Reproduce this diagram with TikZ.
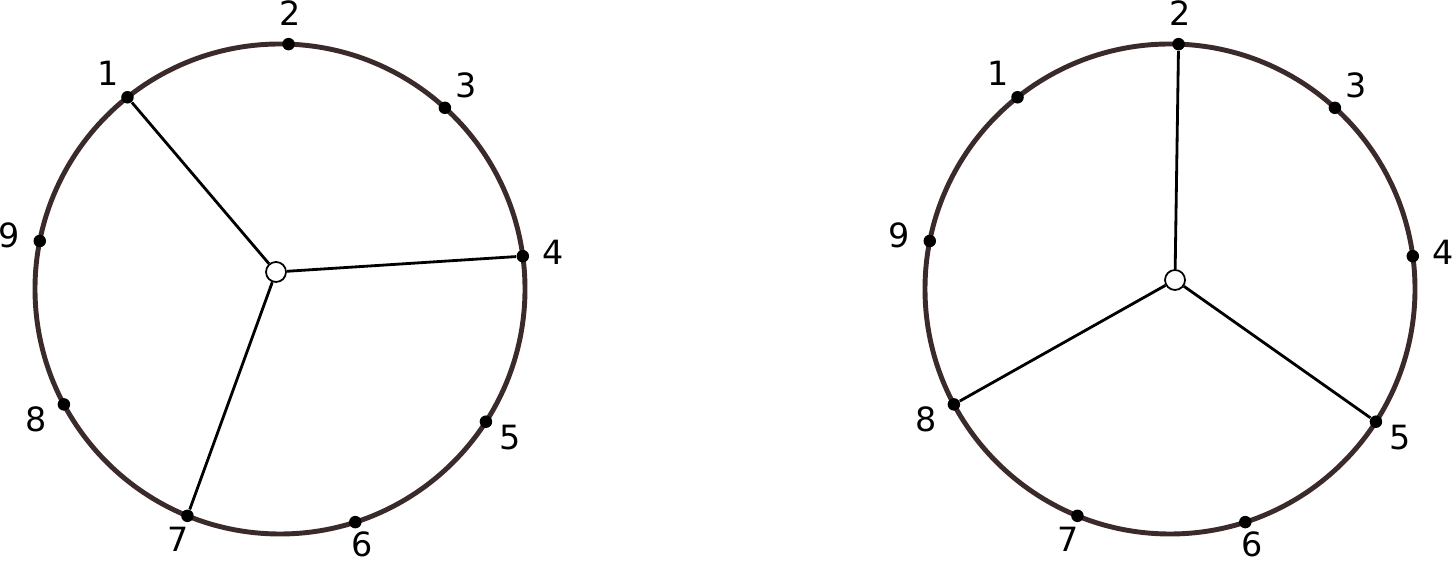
\documentclass[tikz,border=0pt]{standalone}
\usepackage{fontspec}
\setmainfont{DejaVu Sans}
\usepackage{tikz}
\usetikzlibrary{positioning}
\definecolor{rimbrown}{HTML}{3B2A2A}

\begin{document}
\begin{tikzpicture}[x=0.02cm, y=0.02cm, semithick,
    rim/.style={draw=rimbrown, line width=2.8pt},
    spot/.style={circle, fill=black, inner sep=0pt, minimum size=0.25cm},
    hub/.style={circle, draw=black, fill=white, line width=1pt, inner sep=0pt, minimum size=0.4cm},
    spoke/.style={draw=black, line width=1.6pt},
    lbl/.style={font=\fontsize{19}{19}\selectfont}]
    \useasboundingbox (0,0) rectangle (1453,563);
    \def\r{245}
    % Left wheel
    \begin{scope}[shift={(280,274)}]
      \draw[rim] (0,0) circle [radius=\r];
      \foreach \a/\rl [count=\i] in {128.5/276,88/276,47.7/276,7.7/276,-32.8/274,-72.1/268,-112.2/270,-151.9/276,168.7/276}{
        \node[spot] (L\i) at (\a:\r) {};
        \node[lbl] (Ll\i) at (\a:\rl) {\i};
      }
    \end{scope}
    \node[hub] (Lc) at (276,291) {};
    \draw[spoke] (Lc) -- (L1);
    \draw[spoke] (Lc) -- (L4);
    \draw[spoke] (Lc) -- (L7);
    % Right wheel
    \begin{scope}[shift={(1170,274)}]
      \draw[rim] (0,0) circle [radius=\r];
      \foreach \a/\rl [count=\i] in {128.5/276,88/276,47.7/276,7.7/276,-32.8/274,-72.1/268,-112.2/270,-151.9/276,168.7/276}{
        \node[spot] (R\i) at (\a:\r) {};
        \node[lbl] (Rl\i) at (\a:\rl) {\i};
      }
    \end{scope}
    \node[hub] (Rc) at (1175,283) {};
    \draw[spoke] (Rc) -- (R2);
    \draw[spoke] (Rc) -- (R5);
    \draw[spoke] (Rc) -- (R8);
\end{tikzpicture}
\end{document}
